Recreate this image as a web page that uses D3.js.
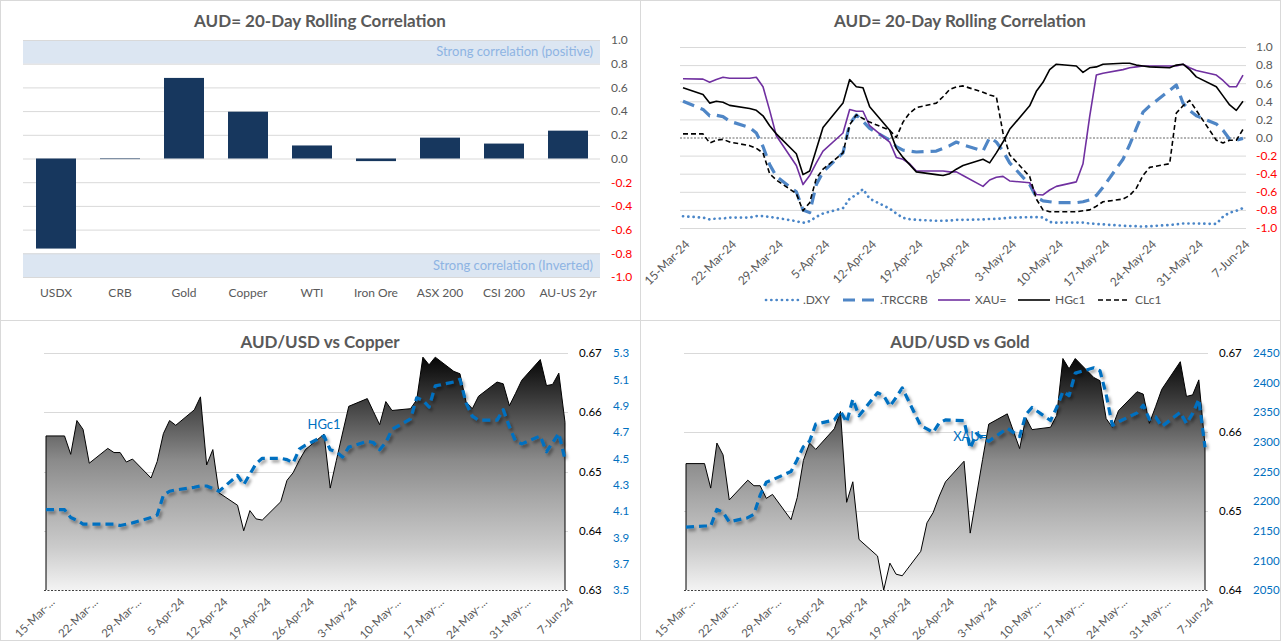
<!DOCTYPE html>
<html><head><meta charset="utf-8">
<script src="https://cdn.jsdelivr.net/npm/d3@7/dist/d3.min.js"></script>
<style>
html,body{margin:0;padding:0;background:#fff;}
svg{display:block;}
</style></head><body>
<svg id="chart" width="1281" height="641"></svg>
<script>
// ---------------- DATA ----------------
const corrCategories = ["USDX","CRB","Gold","Copper","WTI","Iron Ore","ASX 200","CSI 200","AU-US 2yr"];
const corrValues = [-0.76, -0.005, 0.68, 0.395, 0.11, -0.022, 0.176, 0.126, 0.235];
const corrTicks = [1.0,0.8,0.6,0.4,0.2,0.0,-0.2,-0.4,-0.6,-0.8,-1.0];
const bandNotes = ["Strong correlation (positive)","Strong correlation (Inverted)"];

const dates = [
"2024-03-15","2024-03-18","2024-03-19","2024-03-20","2024-03-21","2024-03-22",
"2024-03-25","2024-03-26","2024-03-27","2024-03-28","2024-03-29",
"2024-04-01","2024-04-02","2024-04-03","2024-04-04","2024-04-05",
"2024-04-08","2024-04-09","2024-04-10","2024-04-11","2024-04-12",
"2024-04-15","2024-04-16","2024-04-17","2024-04-18","2024-04-19",
"2024-04-22","2024-04-23","2024-04-24","2024-04-25","2024-04-26",
"2024-04-29","2024-04-30","2024-05-01","2024-05-02","2024-05-03",
"2024-05-06","2024-05-07","2024-05-08","2024-05-09","2024-05-10",
"2024-05-13","2024-05-14","2024-05-15","2024-05-16","2024-05-17",
"2024-05-20","2024-05-21","2024-05-22","2024-05-23","2024-05-24",
"2024-05-27","2024-05-28","2024-05-29","2024-05-30","2024-05-31",
"2024-06-03","2024-06-04","2024-06-05","2024-06-06","2024-06-07"];

const dxyCorr = [
-0.87,-0.885,-0.905,-0.895,-0.895,-0.885,
-0.885,-0.868,-0.868,-0.877,-0.888,
-0.925,-0.943,-0.925,-0.877,-0.84,
-0.78,-0.676,-0.633,-0.57,-0.676,
-0.786,-0.84,-0.888,-0.903,-0.91,
-0.92,-0.92,-0.918,-0.91,-0.91,
-0.905,-0.90,-0.90,-0.893,-0.886,
-0.88,-0.88,-0.883,-0.935,-0.94,
-0.94,-0.94,-0.95,-0.955,-0.96,
-0.975,-0.978,-0.98,-0.985,-0.98,
-0.967,-0.96,-0.95,-0.95,-0.95,
-0.955,-0.875,-0.83,-0.81,-0.78];
const trccrbCorr = [
0.40,0.31,0.24,0.245,0.23,0.18,
0.11,0.05,-0.10,-0.30,-0.43,
-0.60,-0.80,-0.83,-0.52,-0.38,
-0.17,0.15,0.25,0.18,0.10,
-0.03,-0.10,-0.14,-0.15,-0.16,
-0.15,-0.12,-0.09,-0.05,-0.08,
-0.15,0.0,-0.05,-0.15,-0.28,
-0.52,-0.66,-0.70,-0.71,-0.72,
-0.72,-0.71,-0.69,-0.64,-0.55,
-0.24,-0.08,0.10,0.28,0.35,
0.52,0.58,0.38,0.30,0.24,
0.15,0.08,-0.02,-0.03,-0.01];
const xauCorr = [
0.65,0.645,0.61,0.64,0.665,0.655,
0.655,0.665,0.56,0.30,0.02,
-0.31,-0.52,-0.42,-0.28,-0.15,
0.05,0.31,0.29,0.29,0.13,
-0.05,-0.22,-0.24,-0.29,-0.37,
-0.37,-0.37,-0.38,-0.38,-0.42,
-0.54,-0.47,-0.44,-0.43,-0.48,
-0.50,-0.63,-0.635,-0.58,-0.54,
-0.49,-0.29,0.23,0.69,0.71,
0.75,0.77,0.78,0.79,0.79,
0.79,0.79,0.81,0.77,0.74,
0.69,0.63,0.56,0.56,0.69];
const hgCorr = [
0.55,0.475,0.38,0.40,0.39,0.355,
0.32,0.30,0.24,0.13,0.04,
-0.18,-0.41,-0.37,-0.13,0.11,
0.38,0.64,0.56,0.55,0.34,
0.08,-0.12,-0.22,-0.30,-0.38,
-0.41,-0.42,-0.40,-0.35,-0.31,
-0.24,-0.28,-0.17,-0.05,0.09,
0.35,0.51,0.61,0.75,0.81,
0.79,0.72,0.77,0.78,0.81,
0.82,0.82,0.80,0.79,0.78,
0.77,0.80,0.81,0.75,0.67,
0.56,0.46,0.36,0.30,0.40];
const clCorr = [
0.04,0.04,-0.06,-0.03,-0.02,-0.05,
-0.09,-0.12,-0.17,-0.40,-0.47,
-0.62,-0.81,-0.72,-0.45,-0.35,
-0.17,0.14,0.25,0.21,0.17,
0.08,0.0,0.17,0.27,0.33,
0.38,0.45,0.53,0.56,0.57,
0.50,0.47,0.45,0.05,-0.19,
-0.43,-0.68,-0.80,-0.82,-0.82,
-0.82,-0.81,-0.80,-0.76,-0.71,
-0.68,-0.64,-0.56,-0.42,-0.33,
-0.29,0.27,0.35,0.41,0.30,
-0.03,-0.06,-0.03,-0.03,0.09];

const audusd = [
0.6560,0.6560,0.6529,0.6586,0.6571,0.6514,
0.6539,0.6532,0.6532,0.6516,0.6521,
0.6489,0.6517,0.6564,0.6586,0.6578,
0.6604,0.6626,0.6511,0.6537,0.6464,
0.6443,0.6400,0.6434,0.6420,0.6418,
0.6449,0.6485,0.6498,0.6519,0.6537,
0.6563,0.6472,0.6519,0.6565,0.6610,
0.6623,0.6601,0.6579,0.6618,0.6603,
0.6606,0.6621,0.6693,0.6680,0.6693,
0.6669,0.6665,0.6617,0.6606,0.6627,
0.6651,0.6648,0.6611,0.6632,0.6654,
0.6689,0.6645,0.6647,0.6666,0.6583];
const copper = [
4.11,4.11,4.05,4.03,4.00,4.00,
4.00,4.00,3.99,4.00,4.01,
4.05,4.07,4.22,4.25,4.26,
4.28,4.29,4.29,4.27,4.25,
4.37,4.30,4.38,4.46,4.50,
4.50,4.49,4.465,4.57,4.60,
4.67,4.565,4.55,4.51,4.585,
4.63,4.62,4.565,4.62,4.72,
4.80,4.96,4.94,4.89,5.05,
5.08,5.10,4.92,4.82,4.79,
4.79,4.87,4.74,4.63,4.61,
4.67,4.55,4.62,4.69,4.49];
const gold = [
2156,2158,2158,2186,2181,2165,
2172,2178,2210,2232,2236,
2250,2270,2292,2301,2330,
2337,2352,2333,2372,2344,
2383,2378,2360,2375,2391,
2327,2322,2316,2332,2337,
2336,2289,2314,2306,2301,
2323,2316,2309,2346,2358,
2336,2358,2385,2378,2416,
2425,2420,2380,2328,2334,
2349,2362,2338,2342,2326,
2350,2331,2348,2372,2291];

const topDateLabels = ["15-Mar-24","22-Mar-24","29-Mar-24","5-Apr-24","12-Apr-24","19-Apr-24","26-Apr-24","3-May-24","10-May-24","17-May-24","24-May-24","31-May-24","7-Jun-24"];
const bottomDateLabels = ["15-Mar-...","22-Mar-...","29-Mar-...","5-Apr-24","12-Apr-24","19-Apr-24","26-Apr-24","3-May-24","10-May-...","17-May-...","24-May-...","31-May-...","7-Jun-24"];
const audTicksCopper = [0.63,0.64,0.65,0.66,0.67];
const copperTicks = [3.5,3.7,3.9,4.1,4.3,4.5,4.7,4.9,5.1,5.3];
const audTicksGold = [0.64,0.65,0.66,0.67];
const goldTicks = [2050,2100,2150,2200,2250,2300,2350,2400,2450];

// ---------------- DRAW ----------------
const FONT = "Lato, 'Open Sans', 'Liberation Sans', sans-serif";
const svg = d3.select("#chart").attr("font-family", FONT);
const parse = d3.utcParse("%Y-%m-%d");
const dts = dates.map(parse);
const start = dts[0], end = dts[dts.length - 1];
const tickDates = d3.utcFriday.range(start, d3.utcDay.offset(end, 1));

const defs = svg.append("defs");
const flt = defs.append("filter").attr("id", "shadow")
  .attr("x", "-5%").attr("y", "-10%").attr("width", "115%").attr("height", "130%");
flt.append("feDropShadow").attr("dx", 2).attr("dy", 2.5).attr("stdDeviation", 1.5)
  .attr("flood-color", "#000").attr("flood-opacity", 0.4);
const grad = defs.append("linearGradient").attr("id", "areaGrad")
  .attr("gradientUnits", "userSpaceOnUse").attr("x1", 0).attr("x2", 0).attr("y1", 353).attr("y2", 590);
[[0, "#000000"], [0.2, "#3c3c3c"], [0.45, "#8a8a8a"], [0.62, "#a9a9a9"], [0.82, "#cbcbcb"], [1, "#f3f3f3"]]
  .forEach(s => grad.append("stop").attr("offset", s[0]).attr("stop-color", s[1]));

// panel borders
const panels = [[0, 0], [640, 0], [0, 320], [640, 320]];
svg.selectAll("rect.panel").data(panels).join("rect").attr("class", "panel")
  .attr("x", d => d[0] + 0.5).attr("y", d => d[1] + 0.5).attr("width", 640).attr("height", 320)
  .attr("fill", "none").attr("stroke", "#d9d9d9");

function title(x, y, t) {
  svg.append("text").attr("x", x).attr("y", y).attr("text-anchor", "middle").attr("dy", "0.35em")
    .attr("font-size", 17).attr("font-weight", "bold").attr("fill", "#595959").text(t);
}

// ======== Top-left bar chart ========
title(320, 21, "AUD= 20-Day Rolling Correlation");
{
  const g = svg.append("g");
  const y = d3.scaleLinear().domain([-1, 1]).range([277, 40]);
  const x = d3.scaleBand().domain(corrCategories).range([24, 600]).paddingInner(0.375).paddingOuter(0.1875);
  const bands = [[0.8, 1.0], [-1.0, -0.8]];
  g.selectAll("rect.band").data(bands).join("rect")
    .attr("x", 23).attr("width", 577).attr("y", d => y(d[1])).attr("height", d => y(d[0]) - y(d[1]))
    .attr("fill", "#dce6f2");
  g.selectAll("line.grid").data(corrTicks).join("line")
    .attr("x1", 23).attr("x2", 600).attr("y1", d => y(d) + 0.5).attr("y2", d => y(d) + 0.5)
    .attr("stroke", "#d9d9d9").attr("stroke-width", 1);
  g.selectAll("text.note").data(bands).join("text")
    .attr("x", 593).attr("y", d => y((d[0] + d[1]) / 2)).attr("dy", "0.35em").attr("text-anchor", "end")
    .attr("font-size", 13).attr("fill", "#8eb4e3").text((d, i) => bandNotes[i]);
  g.selectAll("rect.bar").data(corrValues).join("rect")
    .attr("x", (d, i) => x(corrCategories[i])).attr("width", x.bandwidth())
    .attr("y", d => Math.min(y(d), y(0))).attr("height", d => Math.abs(y(d) - y(0)))
    .attr("fill", "#17375e");
  const ay = g.append("g").attr("transform", "translate(600,0)")
    .call(d3.axisRight(y).tickValues(corrTicks).tickFormat(d => d.toFixed(1)).tickSize(0).tickPadding(11));
  ay.select(".domain").remove();
  ay.selectAll("text").attr("font-size", 12).attr("font-family", FONT).attr("fill", d => d < 0 ? "#ff0000" : "#595959");
  const ax = g.append("g").attr("transform", "translate(0,293)")
    .call(d3.axisBottom(x).tickSize(0).tickPadding(0));
  ax.select(".domain").remove();
  ax.selectAll("text").attr("y", 0).attr("dy", "0.35em").attr("font-size", 12).attr("font-family", FONT).attr("fill", "#595959");
}

// ======== Top-right line chart ========
title(960, 21, "AUD= 20-Day Rolling Correlation");
{
  const g = svg.append("g");
  const x = d3.scaleUtc().domain([start, end]).range([683, 1243]);
  const y = d3.scaleLinear().domain([-1, 1]).range([228, 47]);
  g.selectAll("line.grid").data(corrTicks.filter(d => d !== 0)).join("line")
    .attr("x1", 680).attr("x2", 1246).attr("y1", d => y(d) + 0.5).attr("y2", d => y(d) + 0.5)
    .attr("stroke", "#d9d9d9");
  g.append("line").attr("x1", 680).attr("x2", 1246).attr("y1", y(0) + 0.5).attr("y2", y(0) + 0.5)
    .attr("stroke", "#404040").attr("stroke-width", 0.8).attr("stroke-dasharray", "2,1.5");
  const series = [
    {name: ".DXY", values: dxyCorr, color: "#4a86c8", width: 2.7, dash: "0.1,5.2", cap: "round"},
    {name: ".TRCCRB", values: trccrbCorr, color: "#4f86c6", width: 3.2, dash: "12,7", cap: "butt"},
    {name: "XAU=", values: xauCorr, color: "#7030a0", width: 1.6, dash: null, cap: "butt"},
    {name: "HGc1", values: hgCorr, color: "#000000", width: 1.6, dash: null, cap: "butt"},
    {name: "CLc1", values: clCorr, color: "#000000", width: 1.6, dash: "5,3", cap: "butt"}
  ];
  const line = d3.line().x((d, i) => x(dts[i])).y(d => y(d));
  g.selectAll("path.s").data(series).join("path")
    .attr("d", s => line(s.values)).attr("fill", "none").attr("stroke", s => s.color)
    .attr("stroke-width", s => s.width).attr("stroke-dasharray", s => s.dash).attr("stroke-linecap", s => s.cap)
    .attr("stroke-linejoin", "round");
  const ay = g.append("g").attr("transform", "translate(1246,0)")
    .call(d3.axisRight(y).tickValues(corrTicks).tickFormat(d => d.toFixed(1)).tickSize(0).tickPadding(10));
  ay.select(".domain").remove();
  ay.selectAll("text").attr("font-size", 12).attr("font-family", FONT).attr("fill", d => d < 0 ? "#ff0000" : "#595959");
  const ax = g.append("g").attr("transform", "translate(0,0)")
    .call(d3.axisBottom(x).tickValues(tickDates).tickFormat((d, i) => topDateLabels[i]).tickSize(0));
  ax.select(".domain").remove();
  ax.selectAll("text").attr("x", 0).attr("y", 0).attr("dy", "0.35em").attr("text-anchor", "end")
    .attr("transform", "translate(4,242) rotate(-45)")
    .attr("font-size", 12).attr("font-family", FONT).attr("fill", "#595959");
  // legend
  const lx = [766, 843, 938, 1018, 1098];
  const lg = g.selectAll("g.leg").data(series).join("g").attr("transform", (d, i) => `translate(${lx[i]},300)`);
  lg.append("line").attr("x1", 0).attr("x2", 32).attr("y1", 0).attr("y2", 0)
    .attr("stroke", s => s.color).attr("stroke-width", s => s.width).attr("stroke-dasharray", s => s.dash)
    .attr("stroke-linecap", s => s.cap);
  lg.append("text").attr("x", 37).attr("y", 0).attr("dy", "0.35em").attr("font-size", 12)
    .attr("fill", "#595959").text(s => s.name);
}

// ======== Bottom charts ========
function bottomChart(ox, ttl, x0, x1, leftDomain, leftTicks, leftFmt, rightDomain, rightTicks, rightFmt, secVals, label, labelIdx) {
  title(ox + 320, 342, ttl);
  const g = svg.append("g");
  const x = d3.scaleUtc().domain([start, end]).range([x0, x1]);
  const yL = d3.scaleLinear().domain(leftDomain).range([590, 353]).clamp(true);
  const yR = d3.scaleLinear().domain(rightDomain).range([590, 353]);
  g.selectAll("line.grid").data(leftTicks.slice(1)).join("line")
    .attr("x1", x0 - 2).attr("x2", x1 + 3).attr("y1", d => Math.round(yL(d)) + 0.5).attr("y2", d => Math.round(yL(d)) + 0.5)
    .attr("stroke", "#d9d9d9");
  const area = d3.area().x((d, i) => x(dts[i])).y0(yL(leftDomain[0])).y1(d => yL(d));
  g.append("path").attr("d", area(audusd)).attr("fill", "url(#areaGrad)");
  const pts = audusd.map((v, i) => [x(dts[i]), yL(v)]);
  const outline = [[x(start), yL(leftDomain[0])], ...pts, [x(end), yL(leftDomain[0])]];
  g.append("path").attr("d", d3.line()(outline)).attr("fill", "none").attr("stroke", "#000").attr("stroke-width", 1);
  g.append("line").attr("x1", x0 - 2).attr("x2", x1 + 3).attr("y1", 590.5).attr("y2", 590.5)
    .attr("stroke", "#404040").attr("stroke-width", 1).attr("stroke-dasharray", "2,1.5");
  const line = d3.line().x((d, i) => x(dts[i])).y(d => yR(d));
  g.append("path").attr("d", line(secVals)).attr("fill", "none").attr("stroke", "#0070c0")
    .attr("stroke-width", 3.2).attr("stroke-dasharray", "8,5").attr("stroke-linejoin", "round")
    .attr("filter", "url(#shadow)");
  g.append("text").attr("x", x(dts[labelIdx])).attr("y", yR(secVals[labelIdx]) - 12).attr("dy", "0.35em")
    .attr("text-anchor", "middle").attr("font-size", 13).attr("fill", "#0070c0").text(label);
  const aL = g.append("g").attr("transform", `translate(${ox + 579},0)`)
    .call(d3.axisRight(yL).tickValues(leftTicks).tickFormat(leftFmt).tickSize(0).tickPadding(0));
  aL.select(".domain").remove();
  aL.selectAll("text").attr("font-size", 11.5).attr("font-family", FONT).attr("fill", "#000");
  const aR = g.append("g").attr("transform", `translate(${ox + 613},0)`)
    .call(d3.axisRight(yR).tickValues(rightTicks).tickFormat(rightFmt).tickSize(0).tickPadding(0));
  aR.select(".domain").remove();
  aR.selectAll("text").attr("font-size", 11.5).attr("font-family", FONT).attr("fill", "#0070c0");
  const ax = g.append("g")
    .call(d3.axisBottom(x).tickValues(tickDates).tickFormat((d, i) => bottomDateLabels[i]).tickSize(0));
  ax.select(".domain").remove();
  ax.selectAll("text").attr("x", 0).attr("y", 0).attr("dy", "0.35em").attr("text-anchor", "end")
    .attr("transform", "translate(6,600) rotate(-45)")
    .attr("font-size", 11.5).attr("font-family", FONT).attr("fill", "#595959");
}
bottomChart(0, "AUD/USD vs Copper", 46, 565, [0.63, 0.67], audTicksCopper, d => d.toFixed(2),
  [3.5, 5.3], copperTicks, d => d.toFixed(1), copper, "HGc1", 31);
bottomChart(640, "AUD/USD vs Gold", 686, 1205, [0.64, 0.67], audTicksGold, d => d.toFixed(2),
  [2050, 2450], goldTicks, d => String(d), gold, "XAU=", 32);
</script>
</body></html>
